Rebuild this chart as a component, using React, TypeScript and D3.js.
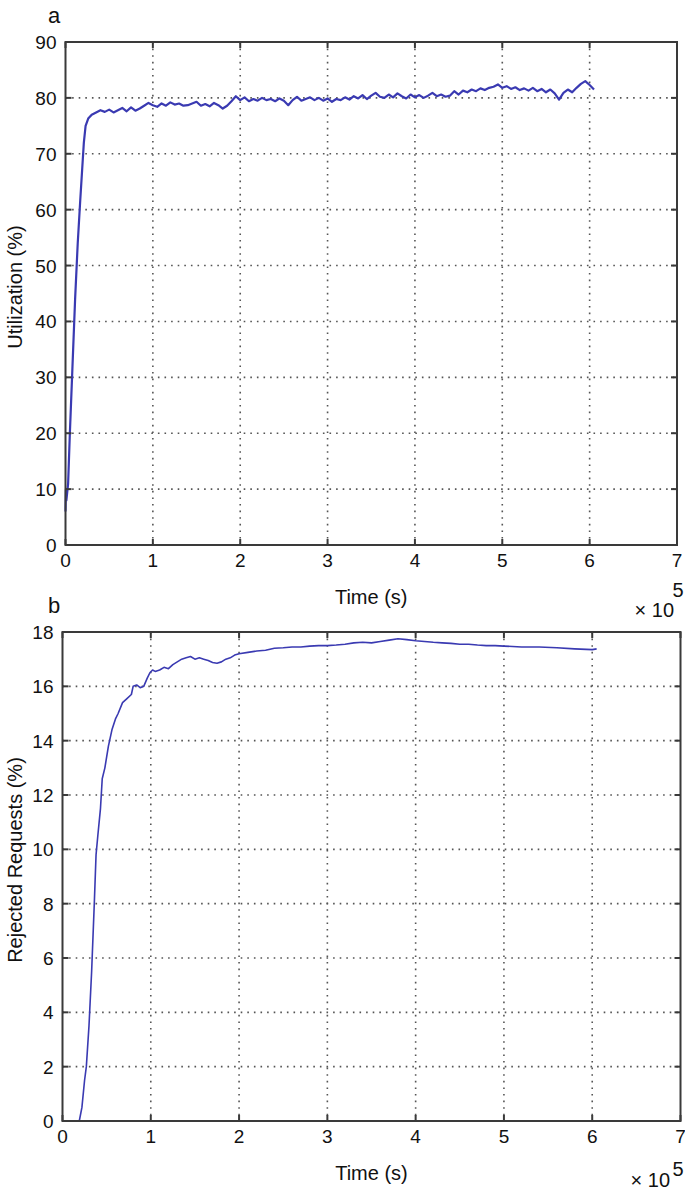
import React from "react"
import { scaleLinear, line } from "d3"

// panel a: utilization, x in units of 1e5 s
const utilRampTime = [0, 0.005, 0.01, 0.03, 0.05, 0.08, 0.11, 0.14, 0.17, 0.19, 0.21, 0.23, 0.26, 0.3, 0.35]
const utilRampValue = [6, 10, 8, 11, 20, 32, 44, 54, 62, 67, 72, 75, 76.3, 77, 77.4]
const utilStart = 0.4
const utilStep = 0.05
const utilValues = [
    77.8, 77.5, 77.9, 77.4, 77.8, 78.2, 77.6, 78.3, 77.7, 78.1,
    78.6, 79.1, 78.7, 78.4, 79.0, 78.6, 79.2, 78.8, 79.0, 78.6,
    78.7, 79.0, 79.3, 78.6, 78.9, 78.5, 79.1, 78.7, 78.1, 78.6,
    79.4, 80.3, 79.6, 80.1, 79.4, 79.8, 79.5, 80.0, 79.6, 79.8,
    79.4, 79.9, 79.5, 78.7, 79.6, 80.2, 79.5, 79.8, 80.1, 79.6,
    80.0, 79.5, 79.9, 79.3, 79.8, 79.6, 80.1, 79.7, 80.3, 79.9,
    80.5, 79.8, 80.4, 80.9, 80.2, 80.0, 80.6, 80.1, 80.8, 80.3,
    79.9, 80.6, 80.1, 80.5, 80.0, 80.4, 80.9, 80.3, 80.6, 80.2,
    80.4, 81.2, 80.6, 81.3, 81.0, 81.5, 81.2, 81.7, 81.4, 81.8,
    82.0, 82.4, 81.8, 82.1, 81.6, 81.9, 81.4, 81.7, 81.3, 81.8,
    81.2, 81.6, 81.0, 81.5, 80.8, 79.7, 80.9, 81.5, 81.0, 81.8,
    82.5, 83.0, 82.3, 81.5
]

// panel b: rejected requests
const rejTime = [
    0.19, 0.22, 0.25, 0.27, 0.3, 0.33, 0.36, 0.38, 0.4, 0.43, 0.45, 0.48, 0.52, 0.56, 0.6,
    0.63, 0.68, 0.73, 0.78, 0.8, 0.84, 0.88, 0.92, 0.96, 0.99, 1.02, 1.05, 1.1, 1.15, 1.2,
    1.25, 1.3, 1.35, 1.4, 1.45, 1.5, 1.55, 1.6, 1.65, 1.7, 1.75, 1.8, 1.85, 1.9, 1.95,
    2.0, 2.1, 2.2, 2.3, 2.4, 2.5, 2.6, 2.7, 2.8, 2.9, 3.0, 3.1, 3.2, 3.3, 3.4,
    3.5, 3.6, 3.7, 3.8, 3.9, 4.0, 4.1, 4.2, 4.3, 4.4, 4.5, 4.6, 4.7, 4.8, 4.9,
    5.0, 5.2, 5.4, 5.6, 5.8, 6.0, 6.05
]
const rejValue = [
    0, 0.5, 1.5, 2, 3.5, 5.5, 8, 9.8, 10.5, 11.5, 12.6, 13, 13.8, 14.4, 14.8,
    15.0, 15.4, 15.55, 15.7, 16.0, 16.05, 15.95, 16.0, 16.3, 16.5, 16.6, 16.55, 16.6, 16.7, 16.65,
    16.8, 16.9, 17.0, 17.05, 17.1, 17.0, 17.05, 17.0, 16.95, 16.88, 16.85, 16.9, 17.0, 17.05, 17.15,
    17.2, 17.25, 17.3, 17.33, 17.4, 17.42, 17.45, 17.45, 17.48, 17.5, 17.5, 17.52, 17.55, 17.6, 17.62,
    17.6, 17.65, 17.7, 17.75, 17.72, 17.68, 17.65, 17.62, 17.6, 17.58, 17.55, 17.55, 17.52, 17.5, 17.5,
    17.48, 17.45, 17.45, 17.42, 17.38, 17.35, 17.38
]

const xTicks = [0, 1, 2, 3, 4, 5, 6, 7]
const utilTicks = [0, 10, 20, 30, 40, 50, 60, 70, 80, 90]
const rejTicks = [0, 2, 4, 6, 8, 10, 12, 14, 16, 18]

const FONT = "'Liberation Sans', Arial, Helvetica, sans-serif"
const LINE_COLOR = "#3a3ab2"

function Panel(props) {
    const { box, points, yTicks, yLabel, yLabelY, letter, letterX, letterY, strokeWidth } = props
    const x = scaleLinear().domain([0, 7]).range([box.left, box.right])
    const y = scaleLinear().domain([yTicks[0], yTicks[yTicks.length - 1]]).range([box.bottom, box.top])
    const path = line()
        .x(d => x(d[0]))
        .y(d => y(d[1]))(points)
    const mid = (box.left + box.right) / 2
    const grid = { stroke: "#555", strokeWidth: 1.6, strokeDasharray: "1.6,5", fill: "none" }
    const axisStroke = "#3a3a3a"

    return (
        <g fontFamily={FONT} fill="#111">
            {/* grid */}
            {xTicks.slice(1, -1).map(t => (
                <line key={"gx" + t} x1={x(t)} x2={x(t)} y1={box.top} y2={box.bottom} style={grid} />
            ))}
            {yTicks.slice(1, -1).map(t => (
                <line key={"gy" + t} x1={box.left} x2={box.right} y1={y(t)} y2={y(t)} style={grid} />
            ))}
            {/* data */}
            <path d={path} fill="none" stroke={LINE_COLOR} strokeWidth={strokeWidth} strokeLinejoin="round" />
            {/* box + ticks */}
            <rect x={box.left} y={box.top} width={box.right - box.left} height={box.bottom - box.top}
                fill="none" stroke={axisStroke} strokeWidth={2} />
            {xTicks.map(t => (
                <g key={"tx" + t}>
                    <line x1={x(t)} x2={x(t)} y1={box.bottom} y2={box.bottom - 6} stroke={axisStroke} strokeWidth={2} />
                    <line x1={x(t)} x2={x(t)} y1={box.top} y2={box.top + 6} stroke={axisStroke} strokeWidth={2} />
                    <text x={x(t)} y={box.bottom + 22} textAnchor="middle" fontSize={19}>{t}</text>
                </g>
            ))}
            {yTicks.map(t => (
                <g key={"ty" + t}>
                    <line x1={box.left} x2={box.left + 6} y1={y(t)} y2={y(t)} stroke={axisStroke} strokeWidth={2} />
                    <line x1={box.right} x2={box.right - 6} y1={y(t)} y2={y(t)} stroke={axisStroke} strokeWidth={2} />
                    <text x={box.left - 9} y={y(t) + 7} textAnchor="end" fontSize={19}>{t}</text>
                </g>
            ))}
            {/* labels */}
            <text x={mid} y={box.bottom + 59} textAnchor="middle" fontSize={20}>Time (s)</text>
            <text transform={`translate(22,${yLabelY}) rotate(-90)`} textAnchor="middle" fontSize={20}>{yLabel}</text>
            <text x={letterX} y={letterY} textAnchor="middle" fontSize={22}>{letter}</text>
            {props.expTop ? (
                <g>
                    <text x={678} y={597} textAnchor="middle" fontSize={20}>5</text>
                    <text x={674} y={617} textAnchor="end" fontSize={20}>{"\u00d7 10"}</text>
                </g>
            ) : (
                <g>
                    <text x={670} y={1187} textAnchor="end" fontSize={20}>{"\u00d7 10"}</text>
                    <text x={678} y={1176} textAnchor="middle" fontSize={20}>5</text>
                </g>
            )}
        </g>
    )
}

export default function App() {
    const utilPoints = utilRampTime.map((t, i) => [t, utilRampValue[i]])
        .concat(utilValues.map((v, i) => [utilStart + i * utilStep, v]))
    const rejPoints = rejTime.map((t, i) => [t, rejValue[i]])

    return (
        <svg width={685} height={1191} style={{ position: "absolute", left: 0, top: 0, background: "#fff" }}>
            <Panel box={{ left: 65.5, right: 677, top: 42, bottom: 545 }} points={utilPoints}
                yTicks={utilTicks} yLabel="Utilization (%)" yLabelY={287}
                letter="a" letterX={54} letterY={23} strokeWidth={2.2} expTop={true} />
            <Panel box={{ left: 62.5, right: 680.5, top: 632, bottom: 1121 }} points={rejPoints}
                yTicks={rejTicks} yLabel="Rejected Requests (%)" yLabelY={860}
                letter="b" letterX={54} letterY={613} strokeWidth={1.6} expTop={false} />
        </svg>
    )
}
